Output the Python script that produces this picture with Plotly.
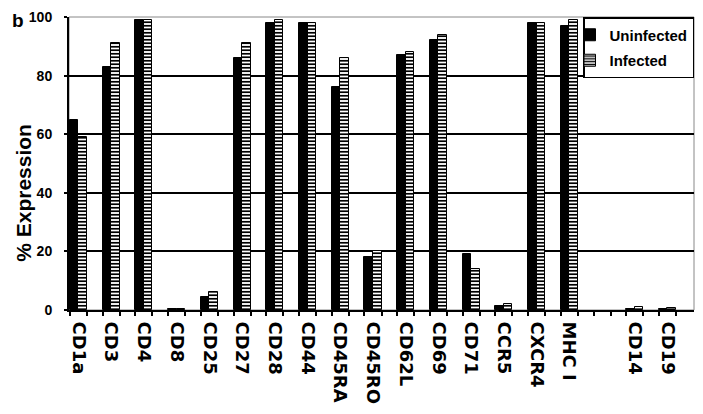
import plotly.graph_objects as go

categories = ["CD1a", "CD3", "CD4", "CD8", "CD25", "CD27", "CD28", "CD44", "CD45RA",
              "CD45RO", "CD62L", "CD69", "CD71", "CCR5", "CXCR4", "MHC I", "", "CD14", "CD19"]
uninfected = [65, 83, 99, 0.5, 4.5, 86, 98, 98, 76, 18, 87, 92, 19, 1.2, 98, 97, None, 0.2, 0.2]
infected = [59, 91, 99, 0.5, 6, 91, 99, 98, 86, 20, 88, 94, 14, 2, 98, 99, None, 0.9, 0.6]
y_ticks = [0, 20, 40, 60, 80, 100]

pos = list(range(len(categories)))
w = 0.26
edge_ticks = sorted([p - w for p in pos] + [p + w for p in pos])

ARIAL = "Liberation Sans"

fig = go.Figure()
fig.add_trace(go.Bar(
    x=pos, y=uninfected, name="Uninfected", width=w, offset=-w,
    marker=dict(color="black", line=dict(color="black", width=1)),
    legendgroup="a",
))
fig.add_trace(go.Bar(
    x=pos, y=infected, name="Infected", width=w, offset=0,
    marker=dict(color="white", line=dict(color="black", width=1),
                pattern=dict(shape="-", fgcolor="black", bgcolor="white",
                             size=3.5, solidity=0.5, fillmode="replace")),
    legendgroup="b",
))

fig.update_layout(
    width=695, height=406,
    margin=dict(l=61, r=9, t=9, b=104, autoexpand=False),
    paper_bgcolor="white", plot_bgcolor="white",
    showlegend=True,
    legend=dict(x=1, xanchor="right", y=1, yanchor="top",
                bordercolor="black", borderwidth=1.5, bgcolor="white",
                font=dict(family=ARIAL, size=15, color="black", weight="bold"),
                tracegroupgap=3, indentation=-15, itemwidth=30),
    bargap=0,
    xaxis=dict(
        range=[-0.29, 18.81], tickmode="array", tickvals=pos, ticktext=categories,
        tickangle=90, ticks="", showgrid=False, zeroline=False, automargin=False,
        showline=True, linecolor="black", linewidth=2,
        tickfont=dict(family="DejaVu Sans", size=18, color="black", weight="bold"),
        ticklabelstandoff=6,
        minor=dict(tickmode="array", tickvals=edge_ticks, ticks="outside",
                   ticklen=4, tickcolor="black", tickwidth=1.5, showgrid=False),
    ),
    yaxis=dict(
        range=[0, 100], tickmode="array", tickvals=y_ticks, automargin=False,
        ticks="outside", ticklen=3, tickcolor="black", tickwidth=1.5,
        showline=True, linecolor="black", linewidth=2,
        showgrid=True, gridcolor="black", gridwidth=1.5, zeroline=False,
        tickfont=dict(family=ARIAL, size=14, color="black", weight="bold"),
        ticklabelstandoff=9,
    ),
    shapes=[dict(type="rect", xref="paper", yref="paper", x0=0, x1=1, y0=0, y1=1,
                 line=dict(color="#888888", width=1), layer="below")],
    annotations=[
        dict(text="% Expression", xref="paper", yref="paper", x=-0.072, y=0.40,
             xanchor="center", yanchor="middle",
             textangle=-90, showarrow=False,
             font=dict(family=ARIAL, size=21, color="black", weight="bold")),
        dict(text="b", xref="paper", yref="paper", x=-0.082, y=1.03,
             xanchor="center", yanchor="top",
             showarrow=False,
             font=dict(family=ARIAL, size=19, color="black", weight="bold")),
    ],
)

fig.write_html("out.html")
